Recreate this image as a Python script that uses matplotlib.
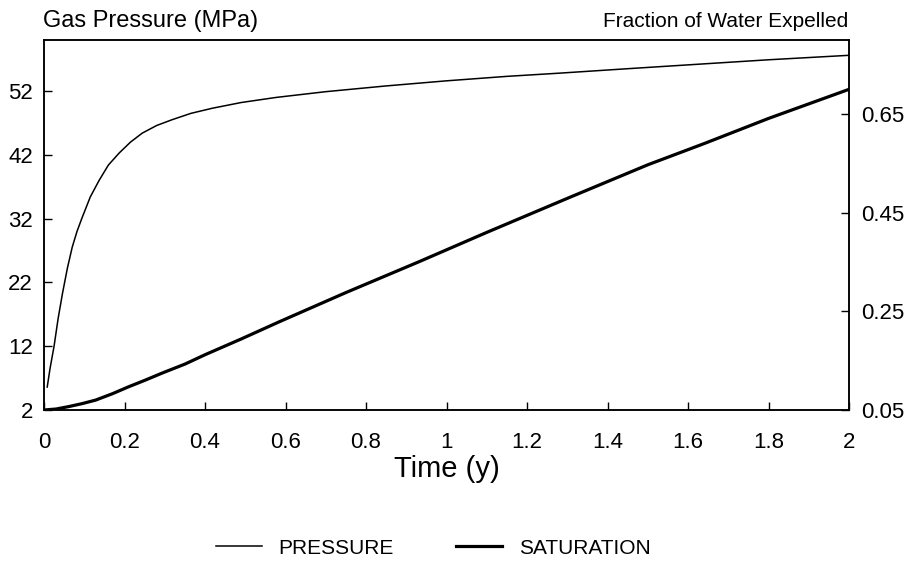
import matplotlib.pyplot as plt

plt.rcParams['font.family'] = ['Liberation Sans', 'DejaVu Sans']

# Gas pressure (MPa) vs time (y)
t_pressure = [0.008, 0.015, 0.025, 0.035, 0.046, 0.058, 0.07, 0.082, 0.095, 0.115, 0.137,
              0.16, 0.187, 0.215, 0.244, 0.28, 0.318, 0.365, 0.418, 0.49, 0.577, 0.7,
              0.85, 1.0, 1.15, 1.28, 1.45, 1.6, 1.8, 2.0]
pressure = [5.6, 8.5, 12.0, 16.3, 20.3, 24.2, 27.5, 30.0, 32.2, 35.4, 38.0,
            40.4, 42.3, 44.0, 45.4, 46.6, 47.5, 48.5, 49.3, 50.2, 51.0, 51.9,
            52.8, 53.6, 54.3, 54.8, 55.5, 56.1, 56.9, 57.6]

# Fraction of water expelled vs time (y)
t_saturation = [0.0, 0.03, 0.062, 0.095, 0.128, 0.17, 0.21, 0.25, 0.294, 0.35, 0.40,
                0.49, 0.585, 0.75, 0.933, 1.1, 1.306, 1.5, 1.64, 1.8, 2.0]
saturation = [0.050, 0.052, 0.057, 0.063, 0.070, 0.083, 0.097, 0.110, 0.125, 0.143, 0.162,
              0.194, 0.229, 0.288, 0.351, 0.410, 0.481, 0.547, 0.590, 0.641, 0.700]

fig = plt.figure(figsize=(9.16, 5.64), dpi=100)
ax = fig.add_axes([44 / 916, 1 - 410 / 564, (849 - 44) / 916, (410 - 40) / 564])
ax2 = ax.twinx()

p_line, = ax.plot(t_pressure, pressure, color='black', linewidth=1.1, label='PRESSURE')
s_line, = ax2.plot(t_saturation, saturation, color='black', linewidth=2.3, label='SATURATION')

ax.set_xlim(0, 2)
ax.set_ylim(2, 60)
ax2.set_ylim(0.05, 0.80)

ax.set_xticks([0, 0.2, 0.4, 0.6, 0.8, 1, 1.2, 1.4, 1.6, 1.8, 2])
ax.set_xticklabels(['0', '0.2', '0.4', '0.6', '0.8', '1', '1.2', '1.4', '1.6', '1.8', '2'])
ax.set_yticks([2, 12, 22, 32, 42, 52])
ax2.set_yticks([0.05, 0.25, 0.45, 0.65])
ax2.set_yticklabels(['0.05', '0.25', '0.45', '0.65'])

ax.tick_params(axis='x', direction='in', length=6, width=1, labelsize=16, pad=16)
ax.tick_params(axis='y', direction='in', length=6, width=1, labelsize=16, pad=8)
ax2.tick_params(axis='y', direction='in', length=6, width=1, labelsize=16, pad=9)

for a in (ax, ax2):
    for sp in a.spines.values():
        sp.set_linewidth(1.1)

ax.set_xlabel('Time (y)', fontsize=21, labelpad=1)

fig.text(43 / 916, 1 - 27 / 564, 'Gas Pressure (MPa)', fontsize=17, ha='left', va='baseline')
fig.text(848 / 916, 1 - 27 / 564, 'Fraction of Water Expelled', fontsize=15, ha='right', va='baseline')

fig.legend(handles=[p_line, s_line], loc='center', bbox_to_anchor=(433 / 916, 1 - 548 / 564),
           ncol=2, frameon=False, fontsize=15, handlelength=2.2, columnspacing=3.0)

fig.savefig('out.png', dpi=100)
